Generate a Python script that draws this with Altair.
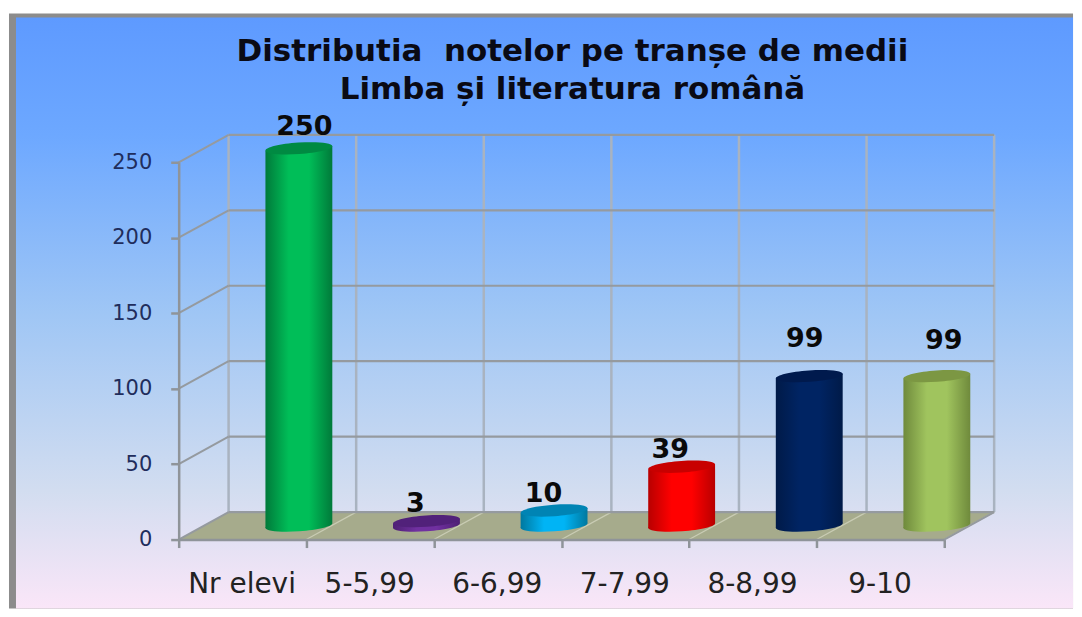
import altair as alt
import pandas as pd

# ---- data ----
categories = ["Nr elevi", "5-5,99", "6-6,99", "7-7,99", "8-8,99", "9-10"]
values = [250, 3, 10, 39, 99, 99]
y_ticks = [0, 50, 100, 150, 200, 250]
x_ticks = [0, 1, 2, 3, 4, 5, 6]
side_colors = ["#00BE58", "#7030A0", "#00B4F5", "#FF0000", "#002463", "#A0C45E"]
edge_colors = ["#007A3A", "#4E2074", "#00789F", "#B80000", "#001A48", "#6F8A3C"]
top_colors = ["#008A42", "#51217A", "#0084B4", "#C80000", "#001A4D", "#7C9743"]
title_lines = ["Distributia\u00a0 notelor pe tranșe de medii", "Limba și literatura română"]

# ---- geometry, in scale units (x: one category, y: one pupil) ----
PX_X = 127.83
PX_Y = 1.512
DEPTH_X = 50 / PX_X
DEPTH_Y = 27.5 / PX_Y
BAR_SHIFT = 56.5 / PX_X
BAR_HALF = 33.5 / PX_X
BAR_BASE = 14 / PX_Y
BAR_TILT = 2.4 / PX_Y
label_dx = [5.5 / PX_X, -11 / PX_X, -10.5 / PX_X, -11.5 / PX_X, -4.5 / PX_X, 7 / PX_X]
label_dy = [13 / PX_Y, 9 / PX_Y, 9 / PX_Y, 9 / PX_Y, 29 / PX_Y, 27 / PX_Y]

page_l, page_r = -170 / PX_X, 896 / PX_X
page_t, page_b = 532 / PX_Y, -69 / PX_Y
frame_t = 527 / PX_Y
fill_l, fill_t = -163 / PX_X, 523 / PX_Y

X = alt.Scale(domain=[0, 6], nice=False, zero=False)
Y = alt.Scale(domain=[0, 250], nice=False, zero=False)

# real axes carry ticks, domain and labels
label_expr = "{0:'%s',1:'%s',2:'%s',3:'%s',4:'%s',5:'%s',6:''}[datum.value]" % tuple(categories)
x_axis = alt.Axis(
    values=x_ticks, labelExpr=label_expr, labelOffset=63, labelPadding=23, labelFont="DejaVu Sans",
    labelFontSize=28, labelColor="#222222", tickSize=8, tickWidth=2.5, tickColor="#8F9499",
    domainColor="#8F9499", domainWidth=2.5, grid=False, zindex=1, labelAngle=0, labelOverlap=False,
    labelFlush=False,
)
y_axis = alt.Axis(
    values=y_ticks, labelPadding=19, labelFont="DejaVu Sans", labelFontSize=21, labelColor="#1F2D5C",
    tickSize=8, tickWidth=2.5, tickColor="#8F9499", domainColor="#8F9499", domainWidth=2.5,
    grid=False, zindex=1, labelOverlap=False, labelFlush=False,
)


def xq(name="x"):
    return alt.X(f"{name}:Q", scale=X, axis=x_axis, title=None)


def yq(name="y"):
    return alt.Y(f"{name}:Q", scale=Y, axis=y_axis, title=None)


def rect(l, r, t, b, **mark):
    d = pd.DataFrame([{"x": l, "x2": r, "y": t, "y2": b}])
    return alt.Chart(d).mark_rect(**mark).encode(x=xq(), x2="x2:Q", y=yq(), y2="y2:Q")


def rules(rows, **mark):
    d = pd.DataFrame(rows, columns=["x", "x2", "y", "y2"])
    return alt.Chart(d).mark_rule(**mark).encode(x=xq(), x2="x2:Q", y=yq(), y2="y2:Q")


bg = alt.LinearGradient(
    gradient="linear", x1=0, x2=0, y1=0, y2=1,
    stops=[
        alt.GradientStop(offset=0, color="#5E9AFF"),
        alt.GradientStop(offset=0.2, color="#6DA8FF"),
        alt.GradientStop(offset=0.5, color="#9FC6F5"),
        alt.GradientStop(offset=0.8, color="#D2DDF0"),
        alt.GradientStop(offset=1, color="#FAE6F8"),
    ],
)

layers = [
    rect(page_l, page_r, page_t, page_b, color="#FFFFFF"),
    rect(page_l, page_r, frame_t, page_b, color="#8C8C8C"),
    rect(fill_l, page_r, fill_t, page_b, color=bg),
]

# floor
floor_df = pd.DataFrame({"y": [0, DEPTH_Y], "x": [0, DEPTH_X], "x2": [6, 6 + DEPTH_X]})
layers.append(
    alt.Chart(floor_df).mark_area(orient="horizontal", color="#A6AB8C", opacity=1)
    .encode(y=yq(), x=xq(), x2="x2:Q")
)

# back wall and side wall
layers.append(
    rules([[t + DEPTH_X, t + DEPTH_X, DEPTH_Y, 250 + DEPTH_Y] for t in x_ticks],
          color="#A9B3C0", strokeWidth=2.5)
)
layers.append(
    rules([[t, t + DEPTH_X, 0, DEPTH_Y] for t in x_ticks[1:]], color="#C9CCB4", strokeWidth=1.2)
)
layers.append(
    rules([[DEPTH_X, 6 + DEPTH_X, t + DEPTH_Y, t + DEPTH_Y] for t in y_ticks],
          color="#959A9F", strokeWidth=2.2)
)
layers.append(
    rules([[0, DEPTH_X, t, t + DEPTH_Y] for t in y_ticks], color="#959A9F", strokeWidth=2)
)
layers.append(rules([[6, 6 + DEPTH_X, 0, DEPTH_Y]], color="#959A9F", strokeWidth=2))

# cylinders
ELLIPSE = "M-1,0.07 A1,0.17 -4 1 1 1,-0.07 A1,0.17 -4 1 1 -1,0.07 Z"
SIZE = (2 * 33.5) ** 2
for i, v in enumerate(values):
    cx = i + 0.5 + BAR_SHIFT
    grad = alt.LinearGradient(
        gradient="linear", x1=0, x2=1, y1=0, y2=0,
        stops=[
            alt.GradientStop(offset=0, color=edge_colors[i]),
            alt.GradientStop(offset=0.35, color=side_colors[i]),
            alt.GradientStop(offset=0.65, color=side_colors[i]),
            alt.GradientStop(offset=1, color=edge_colors[i]),
        ],
    )
    body = pd.DataFrame({
        "x": [cx - BAR_HALF, cx + BAR_HALF],
        "y": [BAR_BASE + v - BAR_TILT, BAR_BASE + v + BAR_TILT],
        "y2": [BAR_BASE - BAR_TILT, BAR_BASE + BAR_TILT],
    })
    layers.append(
        alt.Chart(pd.DataFrame({"x": [cx], "y": [BAR_BASE]}))
        .mark_point(shape=ELLIPSE, size=SIZE, filled=True, fill=grad, opacity=1, strokeWidth=0)
        .encode(x=xq(), y=yq())
    )
    layers.append(
        alt.Chart(body).mark_area(fill=grad, opacity=1, orient="vertical")
        .encode(x=xq(), y=yq(), y2="y2:Q")
    )
    layers.append(
        alt.Chart(pd.DataFrame({"x": [cx], "y": [BAR_BASE + v]}))
        .mark_point(shape=ELLIPSE, size=SIZE, filled=True, fill=top_colors[i], opacity=1, strokeWidth=0)
        .encode(x=xq(), y=yq())
    )

# value labels
labels = pd.DataFrame({
    "x": [i + 0.5 + BAR_SHIFT + label_dx[i] for i in range(len(values))],
    "y": [BAR_BASE + v + label_dy[i] for i, v in enumerate(values)],
    "v": values,
})
layers.append(
    alt.Chart(labels).mark_text(
        font="DejaVu Sans", fontSize=27, fontWeight="bold", color="#0A0A0A", baseline="alphabetic"
    ).encode(x=xq(), y=yq(), text="v:Q")
)

chart = (
    alt.layer(*layers)
    .properties(
        width=767,
        height=378,
        padding=0,
        background="#FFFFFF",
        title=alt.TitleParams(
            text=title_lines, font="DejaVu Sans", fontSize=31, fontWeight="bold", color="#0A0A14",
            anchor="middle", dx=11, offset=-98, lineHeight=38,
        ),
    )
    .configure_view(stroke=None)
)
chart.save("out.html", embed_options={"renderer": "svg", "actions": False})
